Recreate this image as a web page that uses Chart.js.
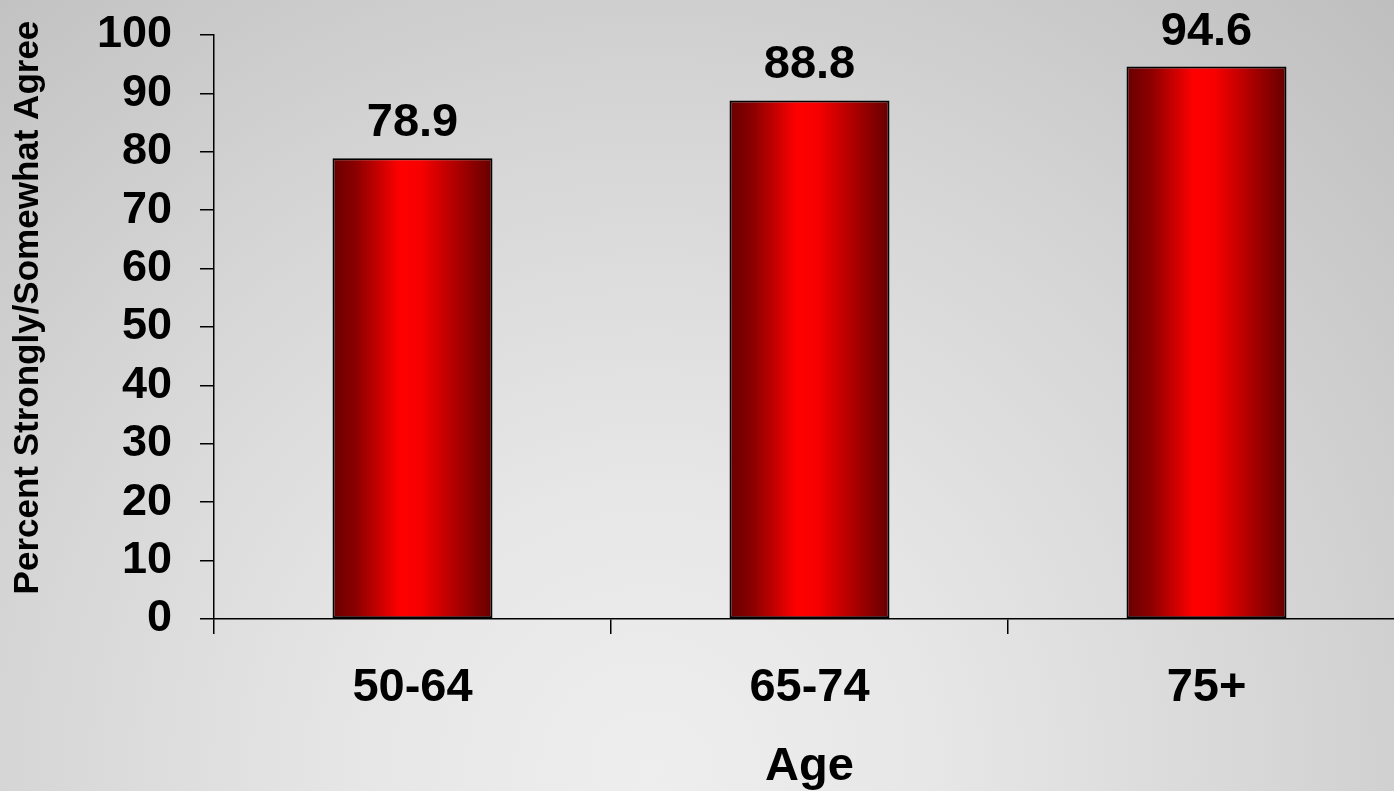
<!DOCTYPE html>
<html>
<head>
<meta charset="utf-8">
<title>Percent Strongly/Somewhat Agree by Age</title>
<script src="https://cdn.jsdelivr.net/npm/chart.js@4.4.1/dist/chart.umd.min.js"></script>
<style>
    html, body { margin: 0; padding: 0; overflow: hidden; background: #d4d4d4; }
    /* canvas runs a little past the window on top and right */
    #ageChart { display: block; margin-top: -20px; }
</style>
</head>
<body>
<canvas id="ageChart" width="1405" height="811"></canvas>
<script>
// ── Data ──
const ageGroups = ['50-64', '65-74', '75+'];
const agreePercent = [78.9, 88.8, 94.6];
const yTickValues = [0, 10, 20, 30, 40, 50, 60, 70, 80, 90, 100];

const fontFamily = '"Liberation Sans", Arial, Helvetica, sans-serif';
const barFraction = 0.403;

// soft grey backdrop, lightest near the bottom centre
const backdrop = {
    id: 'backdrop',
    beforeDraw(chart) {
        const { ctx, width, height } = chart;
        const g = ctx.createRadialGradient(650, 790, 0, 650, 790, 1100);
        g.addColorStop(0, '#eeeeee');
        g.addColorStop(0.25, '#e7e7e7');
        g.addColorStop(0.6, '#d5d5d5');
        g.addColorStop(1, '#bdbdbd');
        ctx.save();
        ctx.fillStyle = g;
        ctx.fillRect(0, 0, width, height);
        ctx.restore();
    }
};

// cylinder-style shading across each bar, worked out from the x scale
function barShade(context) {
    const chart = context.chart;
    const x = chart.scales.x;
    if (!x || context.dataIndex === undefined) return '#ff0000';
    const step = x.getPixelForValue(1) - x.getPixelForValue(0);
    const centre = x.getPixelForValue(context.dataIndex);
    if (!isFinite(step) || !isFinite(centre) || step <= 0) return '#ff0000';
    const half = step * barFraction / 2;
    const g = chart.ctx.createLinearGradient(centre - half, 0, centre + half, 0);
    g.addColorStop(0, '#680000');
    g.addColorStop(0.15, '#8c0000');
    g.addColorStop(0.42, '#ff0000');
    g.addColorStop(0.55, '#f80000');
    g.addColorStop(0.85, '#940000');
    g.addColorStop(1, '#660000');
    return g;
}

// value printed above every bar
const valueLabels = {
    id: 'valueLabels',
    afterDatasetsDraw(chart) {
        const { ctx } = chart;
        const ds = chart.data.datasets[0];
        ctx.save();
        ctx.font = 'bold 47px ' + fontFamily;
        ctx.fillStyle = '#000';
        ctx.textAlign = 'center';
        ctx.textBaseline = 'alphabetic';
        chart.getDatasetMeta(0).data.forEach((bar, i) => {
            ctx.fillText(ds.data[i].toFixed(1), bar.x, bar.y - 22);
        });
        ctx.restore();
    }
};

new Chart(document.getElementById('ageChart'), {
    type: 'bar',
    data: {
        labels: ageGroups,
        datasets: [{
            data: agreePercent,
            backgroundColor: barShade,
            borderColor: '#000',
            borderWidth: 2,
            borderSkipped: false,
            categoryPercentage: 1,
            barPercentage: barFraction,
        }]
    },
    options: {
        responsive: false,
        animation: false,
        layout: { padding: 0 },
        plugins: {
            legend: { display: false },
            tooltip: { enabled: false }
        },
        scales: {
            x: {
                offset: true,
                grid: { offset: true, drawOnChartArea: false, tickLength: 15, color: '#000', lineWidth: 1.5 },
                border: { color: '#000', width: 1.5 },
                ticks: { font: { family: fontFamily, size: 47, weight: 'bold' }, color: '#000', padding: 26, maxRotation: 0 },
                title: {
                    display: true,
                    text: 'Age',
                    color: '#000',
                    font: { family: fontFamily, size: 47, weight: 'bold', lineHeight: 1 },
                    padding: { top: 0, bottom: 0 }
                },
                afterFit: scale => { scale.height = 172; }
            },
            y: {
                min: 0,
                max: 100,
                afterBuildTicks: scale => { scale.ticks = yTickValues.map(v => ({ value: v })); },
                grid: { drawOnChartArea: false, tickLength: 14, color: '#000', lineWidth: 1.5 },
                border: { color: '#000', width: 1.5 },
                ticks: { font: { family: fontFamily, size: 45, weight: 'bold' }, color: '#000', padding: 28, autoSkip: false },
                title: {
                    display: true,
                    text: '    Percent Strongly/Somewhat Agree',
                    color: '#000',
                    font: { family: fontFamily, size: 35, weight: 'bold', lineHeight: 1.2 },
                    padding: { top: 7, bottom: 8 }
                },
                afterFit: scale => { scale.width = 214; }
            }
        }
    },
    plugins: [backdrop, valueLabels]
});
</script>
</body>
</html>
